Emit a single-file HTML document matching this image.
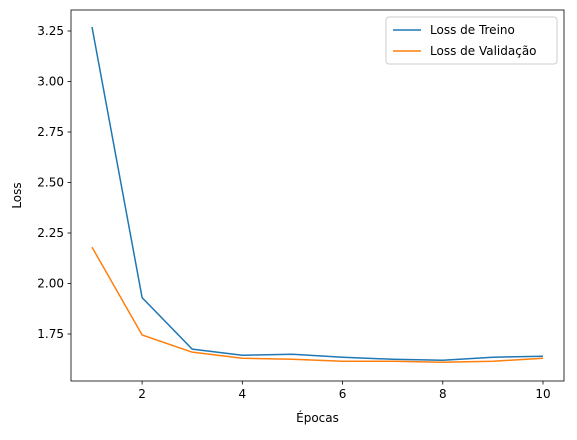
<!DOCTYPE html>
<html><head><meta charset="utf-8"><style>
body{margin:0;background:#fff;font-family:"Liberation Sans","DejaVu Sans",sans-serif;}
svg text{font-family:"DejaVu Sans","Liberation Sans",sans-serif;font-size:12px;fill:#000;}
</style></head><body>
<svg id="chart" width="577" height="435" xmlns="http://www.w3.org/2000/svg">
<rect x="0" y="0" width="577" height="435" fill="#fff"/>
<g id="plot"></g>
</svg>
<script>
const epochs=[1,2,3,4,5,6,7,8,9,10];
const trainLoss=[3.27,1.93,1.675,1.645,1.65,1.635,1.625,1.62,1.635,1.64];
const valLoss=[2.18,1.745,1.66,1.63,1.625,1.615,1.615,1.61,1.615,1.63];
const xTicks=[2,4,6,8,10];
const yTicks=[1.75,2.00,2.25,2.50,2.75,3.00,3.25];
const yTickLabels=["1.75","2.00","2.25","2.50","2.75","3.00","3.25"];

const L=71,R=564,T=10,B=381;
const xs=v=>92+(v-1)*(543-92)/9;
const ys=v=>31+(3.25-v)*(334-31)/1.5;
const NS="http://www.w3.org/2000/svg";
const g=document.getElementById('plot');
function mk(tag,attrs,parent){const e=document.createElementNS(NS,tag);for(const k in attrs)e.setAttribute(k,attrs[k]);(parent||g).appendChild(e);return e;}

function line(data,color,name){
  const p=mk('polyline',{points:data.map((v,i)=>xs(epochs[i])+','+ys(v)).join(' '),fill:'none',stroke:color,'stroke-width':1.5});
  
  
}
line(trainLoss,'#1f77b4','train-loss-line');
line(valLoss,'#ff7f0e','validation-loss-line');

const frame=mk('rect',{x:L,y:T,width:R-L,height:B-T,fill:'none',stroke:'#000','stroke-width':0.8});



xTicks.forEach(t=>{
  const tk=mk('line',{x1:xs(t),x2:xs(t),y1:B,y2:B+3.5,stroke:'#000','stroke-width':0.8});
  
  
  const tx=mk('text',{x:xs(t),y:B+17,'text-anchor':'middle'});tx.textContent=t;
  
  
});
yTicks.forEach((t,i)=>{
  const tk=mk('line',{x1:L-3.5,x2:L,y1:ys(t),y2:ys(t),stroke:'#000','stroke-width':0.8});
  
  
  const tx=mk('text',{x:L-7,y:ys(t)+4,'text-anchor':'end'});tx.textContent=yTickLabels[i];
  
  
});
const xt=mk('text',{x:(L+R)/2,y:422,'text-anchor':'middle'});xt.textContent='Épocas';


const yt=mk('text',{x:21,y:(T+B)/2,'text-anchor':'middle',transform:'rotate(-90 21 '+((T+B)/2)+')'});yt.textContent='Loss';



const lg=mk('g',{});


mk('rect',{x:386,y:17,width:171,height:47,rx:3,fill:'#fff',stroke:'#ccc','stroke-width':1},lg);
[['Loss de Treino','#1f77b4',30],['Loss de Validação','#ff7f0e',51]].forEach(([n,c,y],i)=>{
  const e=mk('g',{},lg);
  
  
  mk('line',{x1:393,x2:421,y1:y,y2:y,stroke:c,'stroke-width':1.5},e);
  const t=mk('text',{x:430,y:y+4},e);t.textContent=n;
});
</script>
</body></html>
